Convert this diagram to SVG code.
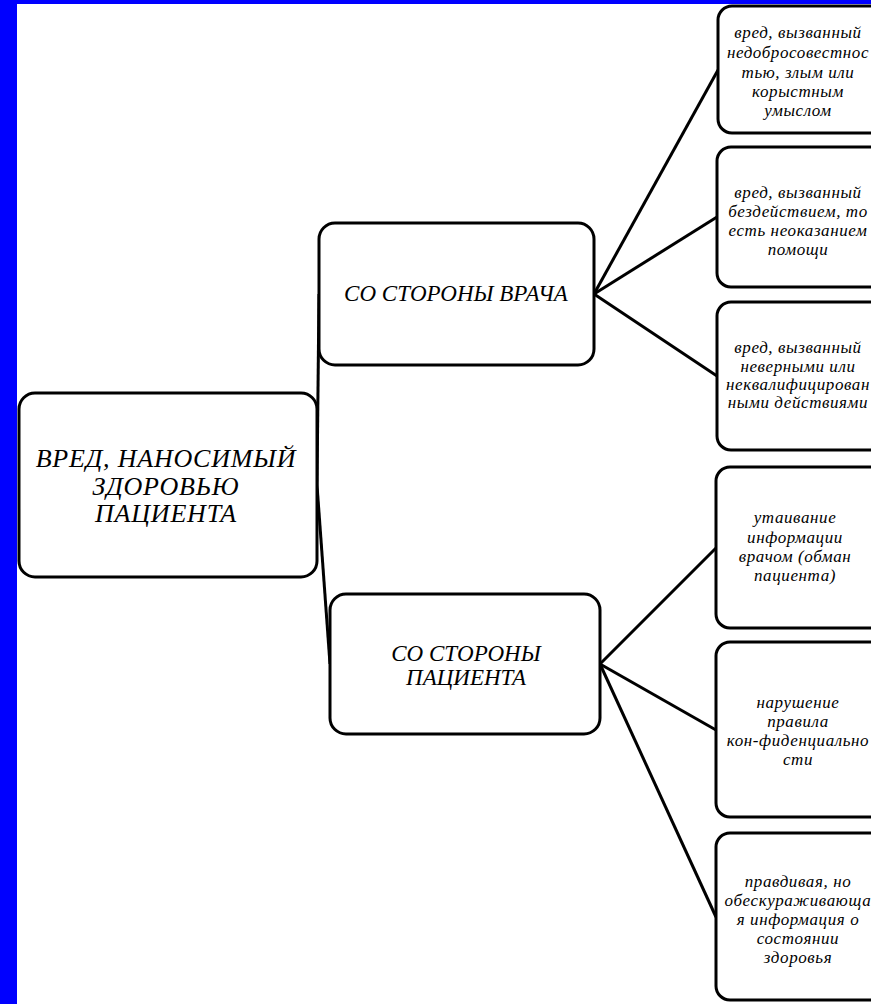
<svg xmlns="http://www.w3.org/2000/svg" width="871" height="1004" viewBox="0 0 871 1004">
<style>
.box{fill:#fff;stroke:#000;stroke-width:3}
.con{stroke:#000;stroke-width:3;fill:none}
text{font-family:"Liberation Serif","DejaVu Serif",serif;font-style:italic;fill:#000;text-anchor:middle}
.big{font-size:26px;letter-spacing:0.8px}
.mid{font-size:23px}
.sm{font-size:17px;letter-spacing:0.6px}
</style>
<rect x="0" y="0" width="871" height="1004" fill="#fff"/>
<rect x="0" y="0" width="17" height="1004" fill="#0000ff"/>
<rect x="0" y="0" width="871" height="4" fill="#0000ff"/>
<g id="connectors" class="con">
<line x1="317" y1="485" x2="319" y2="294"/>
<line x1="317" y1="485" x2="330" y2="664"/>
<line x1="594" y1="294" x2="718" y2="70"/>
<line x1="594" y1="294" x2="717" y2="217"/>
<line x1="594" y1="294" x2="717" y2="376"/>
<line x1="600" y1="664" x2="716" y2="548"/>
<line x1="600" y1="664" x2="716" y2="730"/>
<line x1="600" y1="664" x2="716" y2="917"/>
</g>
<g id="root">
<rect class="box" x="19" y="393" width="298" height="184" rx="16"/>
<text class="big" x="166" y="467">ВРЕД, НАНОСИМЫЙ</text>
<text class="big" x="166" y="495">ЗДОРОВЬЮ</text>
<text class="big" x="166" y="522">ПАЦИЕНТА</text>
</g>
<g id="doctor">
<rect class="box" x="319" y="223" width="275" height="142" rx="16"/>
<text class="mid" x="456" y="301">СО СТОРОНЫ ВРАЧА</text>
</g>
<g id="patient">
<rect class="box" x="330" y="594" width="270" height="140" rx="16"/>
<text class="mid" x="466" y="661">СО СТОРОНЫ</text>
<text class="mid" x="466" y="685">ПАЦИЕНТА</text>
</g>
<g id="leaf1">
<rect class="box" x="718" y="6" width="170" height="127" rx="14"/>
<text class="sm" x="798" y="38">вред, вызванный</text>
<text class="sm" x="798" y="58">недобросовестнос</text>
<text class="sm" x="798" y="78">тью, злым или</text>
<text class="sm" x="798" y="97">корыстным</text>
<text class="sm" x="798" y="116">умыслом</text>
</g>
<g id="leaf2">
<rect class="box" x="717" y="147" width="170" height="140" rx="14"/>
<text class="sm" x="798" y="198">вред, вызванный</text>
<text class="sm" x="798" y="217">бездействием, то</text>
<text class="sm" x="798" y="236">есть неоказанием</text>
<text class="sm" x="798" y="255">помощи</text>
</g>
<g id="leaf3">
<rect class="box" x="717" y="302" width="170" height="148" rx="14"/>
<text class="sm" x="798" y="353">вред, вызванный</text>
<text class="sm" x="798" y="372">неверными или</text>
<text class="sm" x="798" y="390">неквалифицирован</text>
<text class="sm" x="798" y="408">ными действиями</text>
</g>
<g id="leaf4">
<rect class="box" x="716" y="467" width="170" height="161" rx="14"/>
<text class="sm" x="795" y="523">утаивание</text>
<text class="sm" x="795" y="543">информации</text>
<text class="sm" x="795" y="562">врачом (обман</text>
<text class="sm" x="795" y="581">пациента)</text>
</g>
<g id="leaf5">
<rect class="box" x="716" y="642" width="170" height="175" rx="14"/>
<text class="sm" x="798" y="708">нарушение</text>
<text class="sm" x="798" y="727">правила</text>
<text class="sm" x="798" y="746">кон-фиденциально</text>
<text class="sm" x="798" y="765">сти</text>
</g>
<g id="leaf6">
<rect class="box" x="716" y="833" width="170" height="167" rx="14"/>
<text class="sm" x="798" y="887">правдивая, но</text>
<text class="sm" x="798" y="906">обескураживающа</text>
<text class="sm" x="798" y="925">я информация о</text>
<text class="sm" x="798" y="944">состоянии</text>
<text class="sm" x="798" y="963">здоровья</text>
</g>
</svg>
